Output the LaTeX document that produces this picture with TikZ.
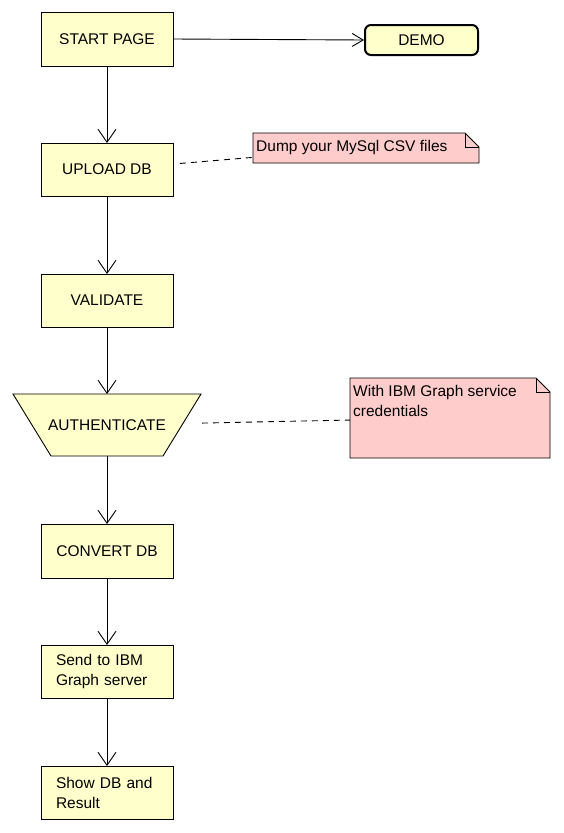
\documentclass[tikz,border=0pt]{standalone}
\usepackage{fontspec}
\setmainfont{Liberation Sans}
\usetikzlibrary{arrows.meta,calc}
\definecolor{boxfill}{HTML}{FFFFCC}
\definecolor{notefill}{HTML}{FFCCCC}
\begin{document}
\begin{tikzpicture}[x=1pt,y=-1pt,
  font=\fontsize{15.5}{20}\selectfont,
  box/.style={draw, line width=0.9pt, fill=boxfill, minimum width=132pt, minimum height=53pt, inner sep=0pt, outer sep=0pt},
  leftbox/.style={box, text width=102pt, align=left},
  demobox/.style={draw, line width=2pt, fill=boxfill, rounded corners=6pt, minimum width=113pt, minimum height=30pt, inner sep=0pt, outer sep=1pt},
  plainbox/.style={minimum width=#1, inner sep=0pt, outer sep=0pt},
  flow/.style={line width=0.9pt, -{Straight Barb[length=13pt,width=18pt,line width=0.9pt]}},
  flowsmall/.style={line width=0.9pt, -{Straight Barb[length=11pt,width=13pt,line width=0.9pt]}},
  notelink/.style={line width=0.9pt, dash pattern=on 6pt off 5pt},
  noteline/.style={line width=0.9pt},
  notetext/.style={inner sep=0pt, align=left}
]
\fill[white] (0,0) rectangle (564,833);
\useasboundingbox (0,0) rectangle (564,833);

% main flow boxes
\node[box, minimum height=54pt] (start) at (107,39) {START PAGE};
\node[demobox] (demo) at (421.5,40) {DEMO};
\node[box] (upload) at (107,169.5) {UPLOAD DB};
\node[box] (validate) at (107,300.5) {VALIDATE};

% authenticate trapezoid
\coordinate (authc) at (107,425);
\draw[line width=0.9pt, fill=boxfill]
  ($(authc)+(-94pt,31pt)$) -- ($(authc)+(94pt,31pt)$) --
  ($(authc)+(56pt,-31pt)$) -- ($(authc)+(-56pt,-31pt)$) -- cycle;
\node[plainbox=188pt, minimum height=62pt] (auth) at (authc) {AUTHENTICATE};

\node[box, minimum height=54pt] (convert) at (107,551) {CONVERT DB};
\node[leftbox] (send) at (107,671.5) {Send to IBM\\Graph server};
\node[leftbox] (show) at (107,792.5) {Show DB and\\Result};

% note 1
\node[plainbox=226pt, minimum height=30pt] (note1) at (366,148) {};
\path[fill=notefill, draw, line width=0.9pt]
  (note1.north west) -- ($(note1.north east)+(-14pt,0pt)$) --
  ($(note1.north east)+(0pt,-14pt)$) -- (note1.south east) --
  (note1.south west) -- cycle;
\draw[noteline] ($(note1.north east)+(-14pt,0pt)$) |- ($(note1.north east)+(0pt,-14pt)$);
\node[notetext, anchor=base west] (note1text) at ($(note1.north west)+(3pt,-18.5pt)$) {Dump your MySql CSV files};

% note 2
\node[plainbox=200pt, minimum height=80pt] (note2) at (450,418) {};
\path[fill=notefill, draw, line width=0.9pt]
  (note2.north west) -- ($(note2.north east)+(-14pt,0pt)$) --
  ($(note2.north east)+(0pt,-14pt)$) -- (note2.south east) --
  (note2.south west) -- cycle;
\draw[noteline] ($(note2.north east)+(-14pt,0pt)$) |- ($(note2.north east)+(0pt,-14pt)$);
\node[notetext, anchor=north west] (note2text) at ($(note2.north west)+(3pt,-7.5pt)$) {With IBM Graph service\\credentials};

% connectors
\draw[flowsmall] (start.east) -- (demo.west);
\draw[flow] (start) -- (upload);
\draw[flow] (upload) -- (validate);
\draw[flow] (validate) -- (auth);
\draw[flow] (auth) -- (convert);
\draw[flow] (convert) -- (send);
\draw[flow] (send) -- (show);

\draw[notelink, shorten <=7pt] (upload) -- (note1);
\draw[notelink, shorten <=1pt] (auth) -- (note2);
\end{tikzpicture}
\end{document}
